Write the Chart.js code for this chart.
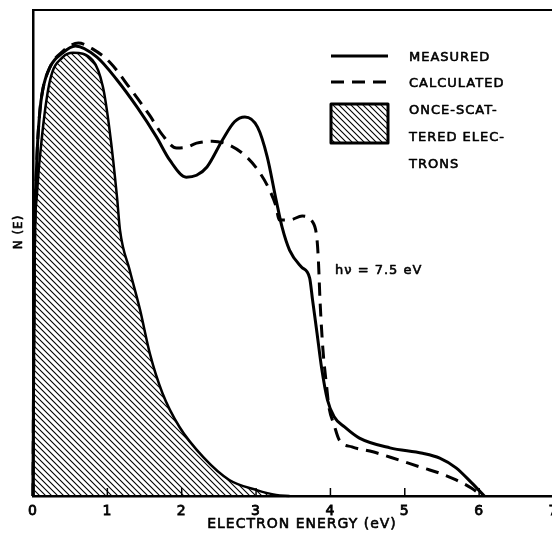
<!DOCTYPE html>
<html>
<head>
<meta charset="utf-8">
<script src="https://cdn.jsdelivr.net/npm/chart.js@4/dist/chart.umd.min.js"></script>
<style>
  html, body { margin: 0; padding: 0; background: #fff; }
  #wrap { width: 552px; height: 539px; }
</style>
</head>
<body>
<div id="wrap"><canvas id="c" width="552" height="539"></canvas></div>
<script>
// Energy axis ticks (eV); the frame runs slightly past the last one
const energyTicks = [0, 1, 2, 3, 4, 5, 6, 7];
const energyMax = 6.98;

// Measured energy distribution N(E)
const measuredE = [0, 0.008, 0.02, 0.05, 0.09, 0.13, 0.23, 0.40, 0.57,
  0.86, 1.13, 1.40, 1.66, 1.84, 2.06, 2.20, 2.34, 2.55, 2.71,
  2.85, 3.02, 3.15, 3.27, 3.35, 3.45, 3.61, 3.72, 3.76, 3.82,
  3.88, 3.96, 4.05, 4.19, 4.39, 4.80, 5.24, 5.47, 5.69, 5.90, 6.07];
const measuredN = [0, 25, 50, 68.5, 78.8, 83.5, 88.3, 91.2, 92.6,
  90.3, 85.6, 80.0, 73.9, 69.1, 65.6, 66.0, 67.7, 73.3, 77.0,
  78.0, 75.9, 69.8, 60.9, 55.3, 50.6, 47.1, 44.9, 40.3, 33.5,
  26.5, 19.8, 16.3, 14.2, 11.9, 9.9, 8.8, 7.8, 5.8, 2.7, 0];

// Calculated energy distribution N(E)
const calcE = [0, 0.008, 0.02, 0.05, 0.09, 0.13, 0.23, 0.40, 0.61,
  0.80, 1.03, 1.30, 1.57, 1.74, 1.93, 2.07, 2.20, 2.41, 2.64,
  2.87, 3.05, 3.18, 3.27, 3.31, 3.45, 3.62, 3.76, 3.82, 3.84,
  3.86, 3.90, 3.95, 3.98, 4.05, 4.12, 4.29, 4.57, 4.92, 5.24,
  5.47, 5.69, 5.90, 6.04];
const calcN = [0, 25, 50, 68.5, 78.8, 83.5, 88.3, 91.5, 93.2,
  92.0, 89.3, 84.0, 78.3, 74.3, 71.6, 71.8, 72.6, 73.0, 72.2,
  69.8, 66.5, 63.0, 59.5, 56.8, 56.8, 57.6, 56.4, 52.7, 47.9,
  40.3, 30.0, 22.4, 18.3, 14.6, 11.5, 10.1, 9.1, 7.4, 5.8,
  4.7, 3.3, 1.6, 0];

// Once-scattered electrons contribution
const onceE = [0, 0.008, 0.02, 0.05, 0.13, 0.23, 0.40, 0.54, 0.80, 0.94,
  1.03, 1.13, 1.17, 1.30, 1.44, 1.57, 1.74, 1.97, 2.29, 2.64,
  3.01, 3.27, 3.45];
const onceN = [0, 25, 50, 61.5, 75.3, 85.6, 90.3, 91.2, 89.7, 84.2,
  75.3, 61.5, 54.7, 46.5, 38.3, 29.4, 21.2, 14.2, 8.0, 3.3,
  1.2, 0.2, 0];

const legendLabels = ['MEASURED', 'CALCULATED', 'ONCE-SCAT-', 'TERED ELEC-', 'TRONS'];
const photonLabel = 'h\u03BD = 7.5 eV';
const xTitle = 'ELECTRON ENERGY (eV)';
const yTitle = 'N (E)';

const FONT = "'DejaVu Sans', sans-serif";
const pts = (xs, ys) => xs.map((x, i) => ({ x, y: ys[i] }));

function makeHatch(ctx) {
  const s = 6;
  const c = document.createElement('canvas');
  c.width = s; c.height = s;
  const g = c.getContext('2d');
  g.strokeStyle = '#000';
  g.lineWidth = 1.1;
  g.beginPath();
  g.moveTo(-1, -1); g.lineTo(s + 1, s + 1);
  g.moveTo(s - 1, -1); g.lineTo(s + 1, 1);
  g.moveTo(-1, s - 1); g.lineTo(1, s + 1);
  g.stroke();
  return ctx.createPattern(c, 'repeat');
}

// filled text with a thin outline for a lettering-pen weight
function penText(ctx, text, x, y) {
  ctx.fillText(text, x, y);
  ctx.strokeText(text, x, y);
}

const canvas = document.getElementById('c');
const hatch = makeHatch(canvas.getContext('2d'));

const decorations = {
  id: 'decorations',
  beforeDraw(chart) {
    chart.ctx.letterSpacing = '1px';
  },
  afterDraw(chart) {
    const { ctx, chartArea, scales } = chart;
    const xs = scales.x;
    ctx.save();
    ctx.letterSpacing = '1px';
    ctx.strokeStyle = '#000';
    ctx.lineCap = 'butt';

    // frame: top edge
    ctx.lineWidth = 2;
    ctx.beginPath();
    ctx.moveTo(chartArea.left - 1, chartArea.top);
    ctx.lineTo(chart.width, chartArea.top);
    ctx.stroke();

    // inward tick marks on the energy axis
    ctx.lineWidth = 1.5;
    energyTicks.slice(1, -1).forEach(v => {
      const px = xs.getPixelForValue(v);
      ctx.beginPath();
      ctx.moveTo(px, chartArea.bottom);
      ctx.lineTo(px, chartArea.bottom - 8);
      ctx.stroke();
    });

    ctx.fillStyle = '#000';
    ctx.textBaseline = 'middle';
    ctx.lineWidth = 0.6;
    ctx.lineJoin = 'round';

    // axis titles
    ctx.font = '14px ' + FONT;
    ctx.textAlign = 'center';
    penText(ctx, xTitle, 302, 524);

    ctx.font = '12px ' + FONT;
    ctx.save();
    ctx.translate(19, 232);
    ctx.rotate(-Math.PI / 2);
    penText(ctx, yTitle, 0, 0);
    ctx.restore();

    // legend
    const lx0 = 331, lx1 = 388, tx = 409;
    ctx.lineWidth = 3;
    ctx.beginPath();
    ctx.moveTo(lx0, 56); ctx.lineTo(lx1, 56);
    ctx.stroke();
    ctx.setLineDash([13, 8]);
    ctx.beginPath();
    ctx.moveTo(lx0, 82); ctx.lineTo(lx1 + 2, 82);
    ctx.stroke();
    ctx.setLineDash([]);
    ctx.fillStyle = hatch;
    ctx.fillRect(lx0, 104, lx1 - lx0, 39);
    ctx.lineWidth = 3;
    ctx.strokeRect(lx0, 104, lx1 - lx0, 39);

    ctx.fillStyle = '#000';
    ctx.lineWidth = 0.6;
    ctx.font = '13px ' + FONT;
    ctx.textAlign = 'left';
    const ly = [58, 84, 111, 138, 165];
    legendLabels.forEach((t, i) => penText(ctx, t, tx, ly[i]));

    // photon energy note
    penText(ctx, photonLabel, 335, 271);
    ctx.restore();
  }
};

new Chart(canvas, {
  type: 'line',
  data: {
    datasets: [
      {
        label: 'ONCE-SCATTERED ELECTRONS',
        data: pts(onceE, onceN),
        borderColor: '#000',
        borderWidth: 2.5,
        backgroundColor: hatch,
        fill: 'origin',
        pointRadius: 0,
        cubicInterpolationMode: 'monotone',
        clip: false,
        order: 3
      },
      {
        label: 'MEASURED',
        data: pts(measuredE, measuredN),
        borderColor: '#000',
        borderWidth: 3,
        fill: false,
        pointRadius: 0,
        cubicInterpolationMode: 'monotone',
        clip: false,
        order: 2
      },
      {
        label: 'CALCULATED',
        data: pts(calcE, calcN),
        borderColor: '#000',
        borderWidth: 3,
        borderDash: [13, 8],
        fill: false,
        pointRadius: 0,
        cubicInterpolationMode: 'monotone',
        clip: false,
        order: 1
      }
    ]
  },
  options: {
    responsive: false,
    animation: false,
    events: [],
    layout: { padding: { top: 10, right: 0, left: 0, bottom: 0 } },
    plugins: { legend: { display: false }, tooltip: { enabled: false } },
    scales: {
      x: {
        type: 'linear',
        min: 0, max: energyMax,
        afterFit: s => { s.height = 43; s.paddingLeft = 0; s.paddingRight = 0; },
        afterBuildTicks: s => { s.ticks = energyTicks.map(v => ({ value: v })); },
        ticks: {
          color: '#000',
          font: { family: FONT, size: 14 },
          textStrokeColor: '#000',
          textStrokeWidth: 0.8,
          padding: 7,
          maxRotation: 0,
          autoSkip: false
        },
        grid: { display: true, drawOnChartArea: false, drawTicks: false },
        border: { display: true, color: '#000', width: 2.5 },
        title: { display: false }
      },
      y: {
        min: 0, max: 100,
        afterFit: s => { s.width = 33; s.paddingTop = 0; s.paddingBottom = 0; },
        ticks: { display: false },
        grid: { display: false, drawTicks: false },
        border: { display: true, color: '#000', width: 2.5 }
      }
    }
  },
  plugins: [decorations]
});
</script>
</body>
</html>
